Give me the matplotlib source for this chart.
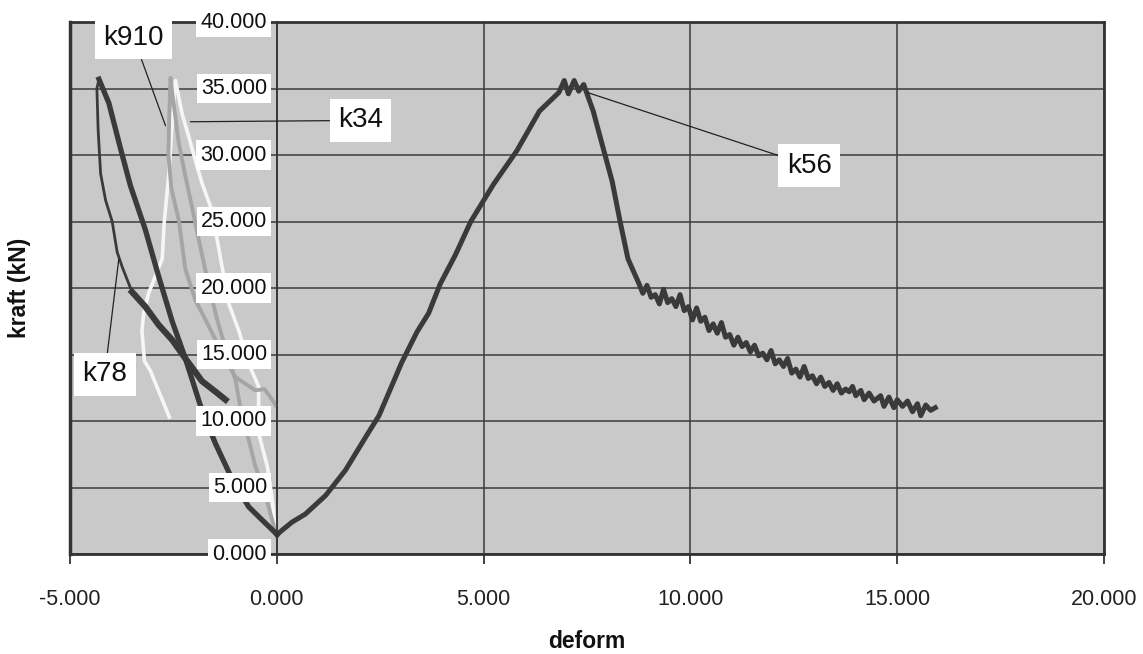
import matplotlib
matplotlib.use('Agg')
import matplotlib.pyplot as plt

FONT = ['Liberation Sans', 'DejaVu Sans']
plt.rcParams['font.family'] = FONT

x_ticks = [-5, 0, 5, 10, 15, 20]
y_ticks = [0, 5, 10, 15, 20, 25, 30, 35, 40]

# k56: loading to the right, peak, softening tail
k56_x = [0.0, 0.37, 0.69, 1.18, 1.66, 2.15, 2.47, 2.87, 3.02, 3.39, 3.67, 3.95, 4.32,
         4.69, 5.24, 5.80, 6.35, 6.82, 6.95, 7.05, 7.19, 7.30, 7.42, 7.65, 7.84, 8.11,
         8.30, 8.49, 8.76,
         8.85, 8.95, 9.05, 9.15, 9.25, 9.35, 9.45, 9.55, 9.65, 9.75, 9.85, 9.95,
         10.05, 10.15, 10.25, 10.35, 10.45, 10.55, 10.65, 10.75, 10.85, 10.95,
         11.05, 11.15, 11.25, 11.35, 11.45, 11.55, 11.65, 11.75, 11.85, 11.95,
         12.05, 12.15, 12.25, 12.35, 12.45, 12.55, 12.65, 12.75, 12.85, 12.95,
         13.05, 13.15, 13.25, 13.35, 13.45, 13.55, 13.65, 13.75, 13.84, 13.92,
         14.00, 14.12, 14.20, 14.32, 14.44, 14.60, 14.68, 14.80, 14.92, 15.00,
         15.13, 15.25, 15.37, 15.49, 15.57, 15.69, 15.81, 15.92]
k56_y = [1.46, 2.4, 3.0, 4.4, 6.3, 8.8, 10.4, 13.3, 14.4, 16.7, 18.1, 20.3, 22.5,
         25.0, 27.8, 30.3, 33.3, 34.7, 35.6, 34.6, 35.6, 34.8, 35.3, 33.3, 31.1, 28.0,
         25.0, 22.2, 20.3,
         19.6, 20.2, 19.3, 19.5, 18.8, 19.9, 18.9, 19.2, 18.6, 19.5, 18.3, 18.6,
         17.6, 18.5, 17.5, 17.8, 16.8, 17.3, 16.6, 17.4, 16.3, 16.5,
         15.7, 16.3, 15.6, 15.9, 15.2, 15.7, 14.9, 15.1, 14.6, 15.3,
         14.3, 14.6, 14.1, 14.7, 13.6, 13.9, 13.3, 14.1, 13.2, 13.4,
         12.8, 13.3, 12.6, 12.9, 12.3, 12.8, 12.1, 12.4, 12.2, 12.6,
         11.9, 12.3, 11.6, 12.1, 11.5, 11.9, 11.1, 11.8, 11.0, 11.6,
         11.1, 11.5, 10.7, 11.3, 10.4, 11.2, 10.8, 11.0]

# k78: loading to the left, peak, thin drop, softening branch
k78_x = [0.01, -0.36, -0.68, -1.08, -1.48, -1.81, -2.21, -2.53, -2.85, -3.18, -3.54,
         -3.78, -4.06, -4.30,
         -4.35, -4.32, -4.26, -4.14, -3.98, -3.86, -3.74,
         -3.50, -3.18, -2.85, -2.53, -2.21, -1.81, -1.48, -1.24]
k78_y = [1.46, 2.57, 3.55, 5.63, 8.28, 10.8, 14.7, 17.5, 20.8, 24.4, 27.7,
         30.5, 33.9, 35.7,
         35.0, 31.9, 28.6, 26.6, 25.0, 22.7, 21.6,
         19.7, 18.6, 17.2, 16.1, 14.7, 13.0, 12.2, 11.6]

# k910 (grey)
k910_x = [0.0, -0.31, -0.52, -0.68, -0.84, -1.0, -1.16, -1.44, -1.64, -1.94, -2.05,
          -2.21, -2.37, -2.53, -2.57,
          -2.60, -2.62, -2.55, -2.37, -2.21, -1.97, -1.64, -1.32, -1.0, -0.52,
          -0.30, -0.11, -0.03]
k910_y = [1.3, 4.8, 6.6, 8.6, 10.3, 13.1, 14.6, 17.6, 20.1, 24.4, 26.1,
          28.4, 30.9, 34.7, 35.8,
          33.0, 30.0, 27.5, 25.1, 21.4, 19.1, 17.1, 15.1, 13.3, 12.3,
          12.4, 11.6, 11.2]

# k34 (white)
k34_x = [0.0, -0.03, -0.11, -0.23, -0.44, -0.44, -0.68, -0.92, -1.16, -1.44, -1.60,
         -1.81, -1.97, -2.13, -2.29, -2.45,
         -2.52, -2.58, -2.61, -2.72, -2.77, -3.10, -3.22, -3.26, -3.20, -3.06,
         -2.85, -2.69, -2.60]
k34_y = [1.3, 1.6, 4.1, 6.6, 9.1, 12.6, 14.3, 16.8, 18.8, 23.6, 26.1,
         27.9, 29.6, 31.4, 33.1, 35.6,
         33.0, 30.0, 28.6, 25.0, 22.2, 19.6, 18.1, 16.8, 14.5, 13.8,
         12.2, 11.0, 10.3]

labels = ['k910', 'k34', 'k56', 'k78']
label_pos = [(-3.46, 38.8), (2.02, 32.6), (12.87, 29.2), (-4.16, 13.5)]
label_tip = [(-2.69, 32.2), (-2.09, 32.5), (7.51, 34.7), (-3.82, 22.2)]

DARK = '#3a3a3a'
GRID = '#3c3c3c'

fig = plt.figure(figsize=(11.43, 6.54), dpi=100)
ax = fig.add_axes([70 / 1143, 100 / 654, 1034 / 1143, 532 / 654])
ax.set_facecolor('#c9c9c9')
ax.set_xlim(x_ticks[0], x_ticks[-1])
ax.set_ylim(y_ticks[0], y_ticks[-1])

for v in x_ticks:
    ax.axvline(v, color=GRID, lw=1.1, zorder=0.5)
for v in y_ticks:
    ax.axhline(v, color=GRID, lw=1.1, zorder=0.5)

# curves
ax.plot(k34_x, k34_y, color='#f6f6f6', lw=2.6, zorder=1.2, solid_joinstyle='round')
ax.plot(k910_x, k910_y, color='#a5a5a5', lw=2.8, zorder=1.3, solid_joinstyle='round')
ax.plot(k78_x[:14], k78_y[:14], color=DARK, lw=3.8, zorder=1.4, solid_joinstyle='round')
ax.plot(k78_x[13:22], k78_y[13:22], color=DARK, lw=2.0, zorder=1.4, solid_joinstyle='round')
ax.plot(k78_x[21:], k78_y[21:], color=DARK, lw=4.5, zorder=1.4, solid_joinstyle='round')
ax.plot(k56_x, k56_y, color=DARK, lw=3.6, zorder=1.5, solid_joinstyle='round')

# spines
ax.spines['left'].set_position(('data', 0))
ax.spines['left'].set_color('#333333')
ax.spines['left'].set_linewidth(1.2)
for s in ['top', 'right', 'bottom']:
    ax.spines[s].set_color('#333333')
    ax.spines[s].set_linewidth(2.0)
ax.axvline(x_ticks[0], color='#333333', lw=2.5, zorder=3, clip_on=False)

ax.set_xticks(x_ticks)
ax.set_xticklabels([f'{v:.3f}' for v in x_ticks])
ax.tick_params(axis='x', direction='out', length=7, width=1.2, pad=18,
               labelsize=15.5, colors='#222222')
ax.set_yticks(y_ticks)
ax.tick_params(axis='y', length=0, labelleft=False)

for v in y_ticks:
    ax.annotate(f'{v:.3f}', xy=(0, v), xytext=(-7, 0), textcoords='offset points',
                ha='right', va='center', fontsize=15.5, color='#111111', zorder=4,
                annotation_clip=False,
                bbox=dict(boxstyle='square,pad=0.2', facecolor='white', edgecolor='none'))

for txt, pos, tip in zip(labels, label_pos, label_tip):
    ax.annotate(txt, xy=tip, xytext=pos, textcoords='data', ha='center', va='center',
                fontsize=20, color='#111111', zorder=5, annotation_clip=False,
                bbox=dict(boxstyle='square,pad=0.3', facecolor='white', edgecolor='none'),
                arrowprops=dict(arrowstyle='-', color='#222222', lw=0.9,
                                shrinkA=0, shrinkB=0))

fig.text(587 / 1143, 1 - 641 / 654, 'deform', ha='center', va='center',
         fontsize=16.5, fontweight='bold', color='#111111')
fig.text(20 / 1143, 1 - 288 / 654, 'kraft (kN)', ha='center', va='center',
         rotation=90, fontsize=16.5, fontweight='bold', color='#111111')

fig.savefig('out.png', dpi=100)
